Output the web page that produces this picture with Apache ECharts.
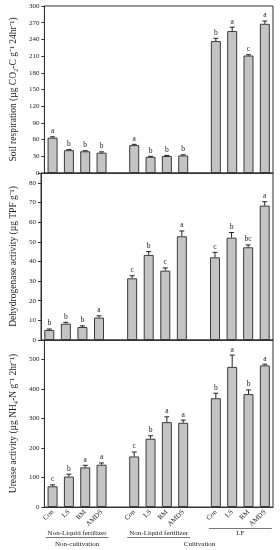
<!DOCTYPE html>
<html>
<head>
<meta charset="utf-8">
<script src="https://cdn.jsdelivr.net/npm/echarts@6/dist/echarts.min.js"></script>
<style>
html,body{margin:0;padding:0;background:#fff;}
#c{width:280px;height:550px;}
</style>
</head>
<body>
<div id="c"></div>
<script>
// ---- data ----
const categories = ['Con','LS','RM','AMDS','','Con','LS','RM','AMDS','','Con','LS','RM','AMDS'];
const respValues = [63.5,41,39,36.5,null,50,29,30.5,31.5,null,237,255,211,268];
const respErr    = [1.5,1,1,1.5,null,1.5,1,1,1.2,null,5,7,1.5,5];
const respLetters = ['a','b','b','b','','a','b','b','b','','b','a','c','a'];

const dehyValues = [5.1,8.3,6.6,11.4,null,31.4,43.3,35.3,52.8,null,42.1,52.1,47.2,68.4];
const dehyErr    = [0.5,0.7,0.6,0.9,null,1.3,1.7,1.4,2.7,null,2.5,2.6,1.2,2];
const dehyLetters = ['b','b','b','a','','c','b','c','a','','c','b','bc','a'];

const ureaValues = [70,103,134,143,null,171,231,287,285,null,368,474,382,479];
const ureaErr    = [5,8,7,6,null,15,10,18,9,null,17,40,14,4];
const ureaLetters = ['c','b','a','a','','c','b','a','a','','b','a','b','a'];

const subGroups = [
  {name:'Non-Liquid fertilizer', from:0, to:3, line:'below'},
  {name:'Non-Liquid fertilizer', from:5, to:8, line:'below'},
  {name:'LF', from:10, to:13, line:'above'}
];
const mainGroups = [
  {name:'Non-cultivation', from:0, to:3},
  {name:'Cultivation', from:5, to:13}
];

const yNames = [
  'Soil respiration (µg CO₂-C g⁻¹ 24hr⁻¹)',
  'Dehydrogenase activity (µg TPF g⁻¹)',
  'Urease activity (µg NH₄-N g⁻¹ 2hr⁻¹)'
];
const yMax = [300, 85, 565];
const yInterval = [30, 10, 100];
const yTickMax = [300, 80, 500];

// ---- chart ----
const FONT = '"Liberation Serif", "Times New Roman", serif';
const chart = echarts.init(document.getElementById('c'), null, {renderer:'canvas'});

const grids = [
  {left:40, right:7, top:6, height:167},
  {left:40, right:7, top:173, height:167},
  {left:40, right:7, top:340, height:167}
];

function errSeries(idx, values, errs, letters){
  const data = [];
  values.forEach((v,i)=>{ if(v!=null) data.push([i, v, errs[i]]); });
  return {
    type:'custom', xAxisIndex:idx, yAxisIndex:idx, clip:false, z:5,
    data: data,
    renderItem: function(params, api){
      const i = api.value(0), v = api.value(1), e = api.value(2);
      const b = api.coord([i, v]);
      const t = api.coord([i, v + e]);
      return {type:'group', children:[
        {type:'line', shape:{x1:b[0], y1:b[1], x2:t[0], y2:t[1]}, style:{stroke:'#222', lineWidth:1}},
        {type:'line', shape:{x1:t[0]-2.5, y1:t[1], x2:t[0]+2.5, y2:t[1]}, style:{stroke:'#222', lineWidth:1}},
        {type:'text', x:t[0], y:t[1]-1.5, style:{text:letters[i], fill:'#222', font:'7.5px ' + FONT, textAlign:'center', textVerticalAlign:'bottom'}}
      ]};
    }
  };
}

const allValues = [respValues, dehyValues, ureaValues];
const allErr = [respErr, dehyErr, ureaErr];
const allLetters = [respLetters, dehyLetters, ureaLetters];

const option = {
  animation:false,
  backgroundColor:'#fff',
  grid: grids.map(g => Object.assign({show:true, borderColor:'#333', borderWidth:1, backgroundColor:'transparent'}, g)),
  xAxis: [0,1,2].map(k => ({
    type:'category', gridIndex:k, data:categories,
    axisLine:{show:true, lineStyle:{color:'#333', width:1}},
    axisTick:{show:false},
    axisLabel:{show:k===2, rotate:45, fontSize:7, fontFamily:FONT, color:'#222', margin:4, interval:0}
  })),
  yAxis: [0,1,2].map(k => ({
    type:'value', gridIndex:k, min:0, max:yMax[k], interval:yInterval[k],
    name:yNames[k], nameLocation:'middle', nameGap:23,
    nameTextStyle:{fontSize:9.5, fontFamily:FONT, color:'#222'},
    axisLine:{show:true, lineStyle:{color:'#333', width:1}},
    axisTick:{show:true, length:3, lineStyle:{color:'#333'}},
    splitLine:{show:false},
    axisLabel:{fontSize:7, fontFamily:FONT, color:'#222', margin:5,
      formatter: v => (v > yTickMax[k] ? '' : String(v))}
  })),
  series: [0,1,2].map(k => ({
    type:'bar', xAxisIndex:k, yAxisIndex:k, barWidth:10,
    data: allValues[k].map(v => v==null ? '-' : v),
    itemStyle:{color:'#c4c4c4', borderColor:'#3a3a3a', borderWidth:1}
  })).concat([0,1,2].map(k => errSeries(k, allValues[k], allErr[k], allLetters[k])))
};
chart.setOption(option);

// bottom group annotations positioned from the category axis
function px(i){ return chart.convertToPixel({xAxisIndex:2}, i); }
const gfx = [];
const lineStyle = {stroke:'#555', lineWidth:0.8};
subGroups.forEach(g=>{
  const x1 = px(g.from) - 7, x2 = px(g.to) + 7;
  gfx.push({type:'text', x:(x1+x2)/2, y:533, style:{text:g.name, fill:'#222', font:'7px ' + FONT, textAlign:'center', textVerticalAlign:'middle'}});
  const ly = g.line === 'below' ? 537.5 : 528.5;
  gfx.push({type:'line', shape:{x1:x1, y1:ly, x2:x2, y2:ly}, style:lineStyle});
});
mainGroups.forEach(g=>{
  const x1 = px(g.from) - 7, x2 = px(g.to) + 7;
  gfx.push({type:'text', x:(x1+x2)/2, y:544, style:{text:g.name, fill:'#222', font:'7px ' + FONT, textAlign:'center', textVerticalAlign:'middle'}});
});
chart.setOption({graphic: gfx});
</script>
</body>
</html>
